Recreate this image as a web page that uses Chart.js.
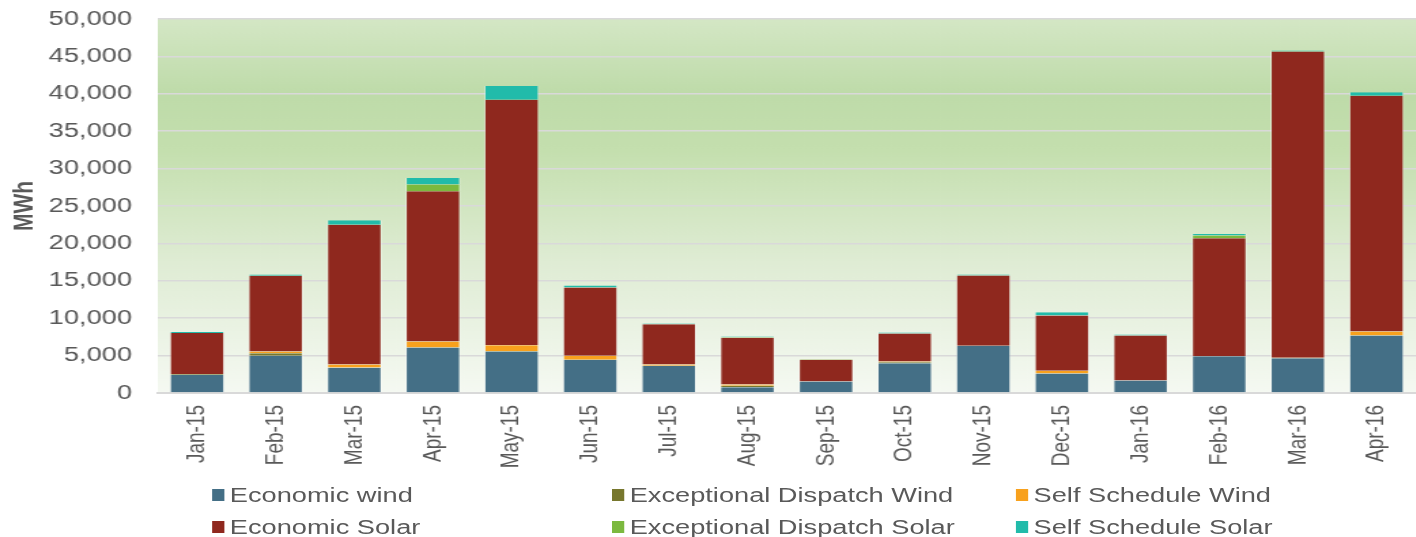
<!DOCTYPE html>
<html>
<head>
<meta charset="utf-8">
<script src="https://cdn.jsdelivr.net/npm/chart.js@4/dist/chart.umd.min.js"></script>
<style>
  body { margin: 0; background: #fff; overflow: hidden; }
  #wrap { position: relative; width: 1041px; height: 537px; transform: scaleX(1.36); transform-origin: 0 0; }
  #legend { position: absolute; left: 0; top: 0; width: 1041px; height: 537px; pointer-events: none; }
  .item { position: absolute; display: flex; align-items: center; font: 20px "Liberation Sans", Arial, sans-serif; color: #595959; white-space: nowrap; }
  .box { width: 9px; height: 12px; margin-right: 4px; }
</style>
</head>
<body>
<div id="wrap">
  <canvas id="chart" width="1041" height="478"></canvas>
  <div id="legend"></div>
</div>
<script>
let months = ['Jan-15','Feb-15','Mar-15','Apr-15','May-15','Jun-15','Jul-15','Aug-15','Sep-15','Oct-15','Nov-15','Dec-15','Jan-16','Feb-16','Mar-16','Apr-16'];
let economicWind   = [2430, 4970, 3370, 6080, 5550, 4440, 3630, 780, 1540, 3990, 6310, 2610, 1670, 4920, 4650, 7690];
let exDispatchWind = [100, 360, 30, 0, 50, 0, 0, 180, 0, 120, 0, 0, 0, 0, 0, 0];
let selfSchedWind  = [0, 220, 400, 800, 800, 530, 180, 180, 0, 100, 0, 350, 0, 0, 60, 530];
let economicSolar  = [5500, 10120, 18710, 20100, 32800, 9130, 5390, 6240, 2900, 3740, 9400, 7400, 6020, 15780, 40940, 31510];
let exDispatchSolar = [0, 0, 0, 890, 0, 0, 0, 60, 60, 0, 0, 0, 0, 360, 0, 0];
let selfSchedSolar = [130, 170, 580, 890, 1830, 270, 90, 110, 0, 140, 130, 440, 130, 180, 140, 480];

let textColor = '#595959';
let font = '"Liberation Sans", Arial, sans-serif';

function makeSet(label, data, color) {
    return {
        label: label,
        data: data,
        backgroundColor: color,
        borderColor: 'rgba(255,255,255,0.45)',
        borderWidth: {left: 1, right: 1, top: 0, bottom: 0},
        borderSkipped: false,
        barPercentage: 0.7,
        categoryPercentage: 1
    };
}

// green gradient behind the plot
let plotBg = {
    id: 'plotBg',
    beforeDraw(chart) {
        let {ctx, chartArea: a} = chart;
        let g = ctx.createLinearGradient(0, a.top, 0, a.bottom);
        g.addColorStop(0, '#d4e7c5');
        g.addColorStop(0.2, '#bedba9');
        g.addColorStop(0.35, '#c4dfae');
        g.addColorStop(0.65, '#dfecd4');
        g.addColorStop(1, '#f5f9f2');
        ctx.save();
        ctx.fillStyle = g;
        ctx.fillRect(a.left, a.top, a.right - a.left, a.bottom - a.top);
        ctx.restore();
    }
};

let chart = new Chart(document.getElementById('chart'), {
    type: 'bar',
    data: {
        labels: months,
        datasets: [
            makeSet('Economic wind', economicWind, '#446f86'),
            makeSet('Exceptional Dispatch Wind', exDispatchWind, '#77772d'),
            makeSet('Self Schedule Wind', selfSchedWind, '#f8a11d'),
            makeSet('Economic Solar', economicSolar, '#8f281e'),
            makeSet('Exceptional Dispatch Solar', exDispatchSolar, '#7cb93f'),
            makeSet('Self Schedule Solar', selfSchedSolar, '#21bbaa')
        ]
    },
    options: {
        responsive: false,
        animation: false,
        layout: { padding: { top: 19, right: 0, left: 0, bottom: 0 } },
        plugins: {
            legend: { display: false },
            tooltip: { enabled: false }
        },
        scales: {
            x: {
                stacked: true,
                grid: { display: false },
                border: { color: '#d9d9d9', width: 2 },
                ticks: {
                    color: textColor,
                    font: { family: font, size: 19 },
                    minRotation: 90,
                    maxRotation: 90,
                    autoSkip: false,
                    padding: 4
                },
                afterFit(scale) { scale.height = 85; scale.paddingLeft = 0; scale.paddingRight = 0; }
            },
            y: {
                stacked: true,
                min: 0,
                max: 50000,
                grid: { color: '#d9d9d9', lineWidth: 1.5, drawTicks: false },
                border: { display: false },
                ticks: {
                    stepSize: 5000,
                    color: textColor,
                    font: { family: font, size: 20 },
                    padding: 19,
                    callback: v => v.toLocaleString('en-US')
                },
                title: {
                    display: true,
                    text: 'MWh',
                    color: textColor,
                    font: { family: font, size: 21, weight: 'bold' },
                    padding: { top: 6, bottom: 0 }
                },
                afterFit(scale) { scale.width = 116; scale.paddingTop = 0; scale.paddingBottom = 0; }
            }
        }
    },
    plugins: [plotBg]
});

// legend in three columns, built from the chart's own legend items
let legend = document.getElementById('legend');
let cols = [156, 450, 747];
let rows = [495, 527];
Chart.defaults.plugins.legend.labels.generateLabels(chart).forEach((it, i) => {
    let d = document.createElement('div');
    d.className = 'item';
    d.style.left = cols[i % 3] + 'px';
    d.style.top = (rows[Math.floor(i / 3)] - 12) + 'px';
    d.style.height = '24px';
    let b = document.createElement('span');
    b.className = 'box';
    b.style.background = chart.data.datasets[i].backgroundColor;
    let t = document.createElement('span');
    t.innerText = it.text;
    d.appendChild(b);
    d.appendChild(t);
    legend.appendChild(d);
});
</script>
</body>
</html>
